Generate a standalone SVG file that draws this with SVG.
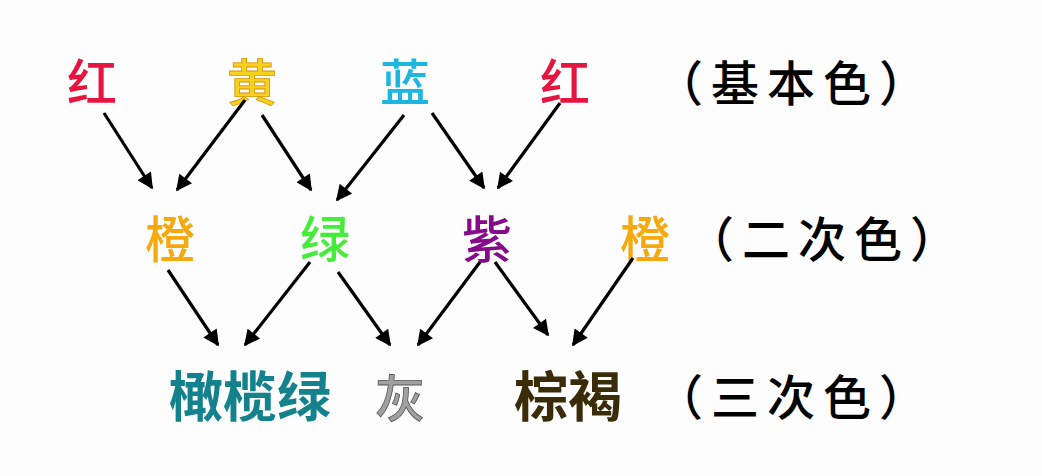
<svg xmlns="http://www.w3.org/2000/svg" width="1042" height="476" viewBox="0 0 1042 476">
<style>
.c{font-family:"Noto Sans CJK SC","Noto Sans CJK JP",sans-serif;text-anchor:middle;font-size:50px;font-weight:500}
.t{font-family:"Noto Sans CJK SC","Noto Sans CJK JP",sans-serif;font-size:54px;font-weight:bold;text-anchor:middle}
.l{font-family:"Noto Sans CJK SC","Noto Sans CJK JP",sans-serif;font-size:48px;letter-spacing:8px;fill:#000;font-weight:500}
.a{stroke:#000;stroke-width:3.2;fill:none;marker-end:url(#ah)}
</style>
<defs>
<marker id="ah" viewBox="0 0 10 10" refX="9" refY="5" markerWidth="5.5" markerHeight="5" orient="auto" markerUnits="strokeWidth">
<path d="M0,0 L10,5 L0,10 z" fill="#000"/>
</marker>
</defs>
<rect width="1042" height="476" fill="#fdfdfd"/>
<g id="primary">
<g id="n-red1"><text class="c" x="92" y="101" fill="#e5153f">红</text></g>
<g id="n-yellow"><text class="c" x="252" y="101" fill="#f7d21c" stroke="#d9900a" stroke-width="0.8">黄</text></g>
<g id="n-blue"><text class="c" x="405" y="101" fill="#1cb6e0">蓝</text></g>
<g id="n-red2"><text class="c" x="565" y="101" fill="#e5153f">红</text></g>
<g id="lbl1"><text class="l" x="655" y="101">（基本色）</text></g>
</g>
<g id="secondary">
<g id="n-orange1"><text class="c" x="170" y="258" fill="#f6a90c">橙</text></g>
<g id="n-green"><text class="c" x="325" y="258" fill="#45ec3a">绿</text></g>
<g id="n-purple"><text class="c" x="487" y="258" fill="#860b8a">紫</text></g>
<g id="n-orange2"><text class="c" x="645" y="258" fill="#f6a90c">橙</text></g>
<g id="lbl2"><text class="l" x="686" y="257">（二次色）</text></g>
</g>
<g id="tertiary">
<g id="n-olive"><text class="t" x="250" y="417" fill="#14828c">橄榄绿</text></g>
<g id="n-gray"><text class="c" x="400" y="417" fill="#a0a0a0" stroke="#555" stroke-width="0.8">灰</text></g>
<g id="n-brown"><text class="t" x="568" y="417" fill="#3a2c08">棕褐</text></g>
<g id="lbl3"><text class="l" x="655" y="415">（三次色）</text></g>
</g>
<g id="connectors">
<line class="a" x1="104" y1="113" x2="152" y2="188"/>
<line class="a" x1="245" y1="100" x2="177" y2="190"/>
<line class="a" x1="262" y1="115" x2="311" y2="190"/>
<line class="a" x1="404" y1="115" x2="337" y2="200"/>
<line class="a" x1="432" y1="113" x2="484" y2="188"/>
<line class="a" x1="560" y1="103" x2="498" y2="188"/>
<line class="a" x1="168" y1="270" x2="218" y2="345"/>
<line class="a" x1="310" y1="262" x2="245" y2="345"/>
<line class="a" x1="338" y1="272" x2="390" y2="345"/>
<line class="a" x1="480" y1="262" x2="418" y2="345"/>
<line class="a" x1="495" y1="262" x2="548" y2="335"/>
<line class="a" x1="633" y1="258" x2="573" y2="345"/>
</g>
</svg>
